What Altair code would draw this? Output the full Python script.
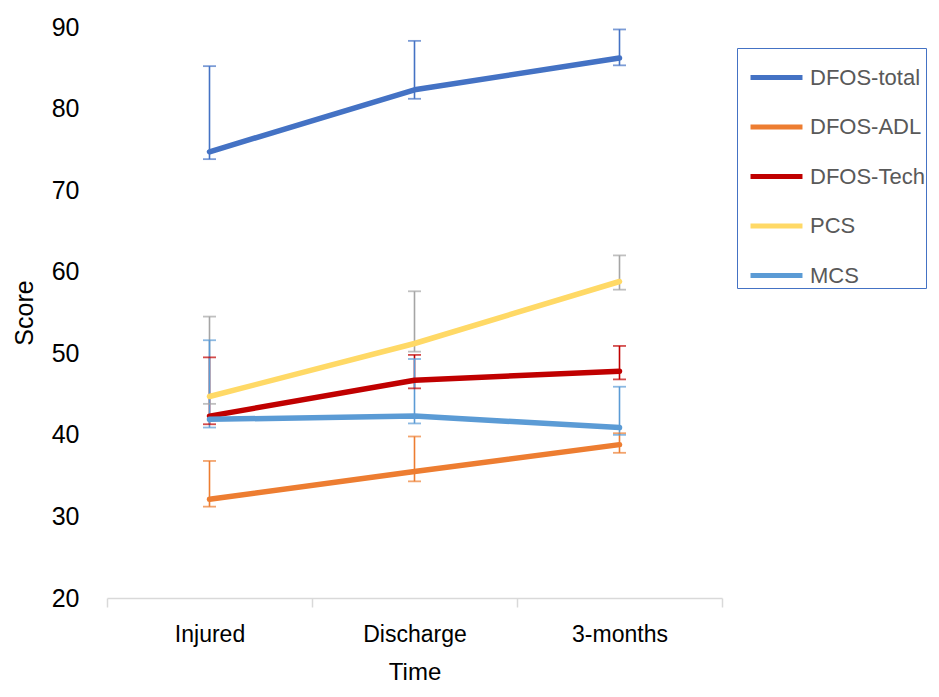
import altair as alt
import pandas as pd

times = ["Injured", "Discharge", "3-months"]
series = ["DFOS-total", "DFOS-ADL", "DFOS-Tech", "PCS", "MCS"]
line_colors = ["#4472C4", "#ED7D31", "#C00000", "#FFD966", "#5B9BD5"]
err_colors = ["#4472C4", "#ED7D31", "#C00000", "#A5A5A5", "#5B9BD5"]
y_ticks = [20, 30, 40, 50, 60, 70, 80, 90]

mean_total = [74.7, 82.3, 86.2]
mean_adl = [32.1, 35.5, 38.8]
mean_tech = [42.3, 46.7, 47.8]
mean_pcs = [44.7, 51.2, 58.8]
mean_mcs = [41.9, 42.3, 40.9]

upper_total = [85.2, 88.3, 89.7]
upper_adl = [36.8, 39.8, 40.2]
upper_tech = [49.5, 49.8, 50.9]
upper_pcs = [54.5, 57.6, 62.0]
upper_mcs = [51.6, 49.3, 45.9]

lower_total = [73.8, 81.2, 85.3]
lower_adl = [31.2, 34.3, 37.8]
lower_tech = [41.3, 45.7, 46.8]
lower_pcs = [43.8, 50.2, 57.8]
lower_mcs = [40.9, 41.4, 40.0]

means = [mean_total, mean_adl, mean_tech, mean_pcs, mean_mcs]
uppers = [upper_total, upper_adl, upper_tech, upper_pcs, upper_mcs]
lowers = [lower_total, lower_adl, lower_tech, lower_pcs, lower_mcs]

rows = []
for si, s in enumerate(series):
    for ti, t in enumerate(times):
        rows.append({"series": s, "order": si, "time": t, "mean": means[si][ti],
                     "upper": uppers[si][ti], "lower": lowers[si][ti],
                     "ecolor": err_colors[si]})
df = pd.DataFrame(rows)

FONT = "Liberation Sans, Arial, sans-serif"

x_enc = alt.X("time:N", sort=times, title="Time", bandPosition=0.5,
              scale=alt.Scale(paddingInner=0, paddingOuter=0))
y_scale = alt.Scale(domain=[20, 90], nice=False, zero=False)

base = alt.Chart(df)

err_rule = base.mark_rule(strokeWidth=1.6).encode(
    x=x_enc,
    y=alt.Y("lower:Q", scale=y_scale, title="Score", axis=alt.Axis(values=y_ticks)),
    y2="upper:Q",
    stroke=alt.Stroke("ecolor:N", scale=None),
)
err_top = base.mark_tick(thickness=1.8, size=13).encode(
    x=x_enc,
    y=alt.Y("upper:Q", scale=y_scale),
    fill=alt.Fill("ecolor:N", scale=None),
)
err_bot = base.mark_tick(thickness=1.8, size=13).encode(
    x=x_enc,
    y=alt.Y("lower:Q", scale=y_scale),
    fill=alt.Fill("ecolor:N", scale=None),
)
lines = base.mark_line(strokeWidth=5.5, strokeCap="round", strokeJoin="round").encode(
    x=x_enc,
    y=alt.Y("mean:Q", scale=y_scale),
    color=alt.Color("series:N", sort=series,
                    scale=alt.Scale(domain=series, range=line_colors),
                    legend=alt.Legend(title=None, orient="none", legendX=630, legendY=21,
                                      symbolType="stroke", symbolSize=2700,
                                      symbolStrokeWidth=5, labelFontSize=22,
                                      labelFont=FONT, labelColor="#595959",
                                      rowPadding=9.5, padding=1, symbolOffset=10,
                                      labelOffset=5,
                                      strokeColor="#4472C4", labelLimit=300)),
    order=alt.Order("order:Q"),
)

chart = alt.layer(err_rule, err_top, err_bot, lines).properties(
    width=615, height=571,
    autosize=alt.AutoSizeParams(type="none"),
    padding={"left": 99, "top": 19, "right": 209, "bottom": 90},
).configure_view(stroke=None).configure_axisX(
    domainColor="#D9D9D9", domainWidth=1.5, tickColor="#D9D9D9", tickWidth=1.5,
    tickSize=9, tickBand="extent", labelFontSize=23, labelFont=FONT,
    labelColor="#000000", labelPadding=16, labelAngle=0, titleFont=FONT,
    titleFontSize=24, titleFontWeight="normal", titleColor="#000000", titlePadding=14,
    grid=False,
).configure_axisY(
    domain=False, ticks=False, grid=False, labelFontSize=25, labelFont=FONT,
    labelColor="#000000", labelPadding=28, titleFont=FONT, titleFontSize=25,
    titleFontWeight="normal", titleColor="#000000", titlePadding=14,
)

chart.save("out.html", embed_options={"renderer": "svg", "actions": False})
